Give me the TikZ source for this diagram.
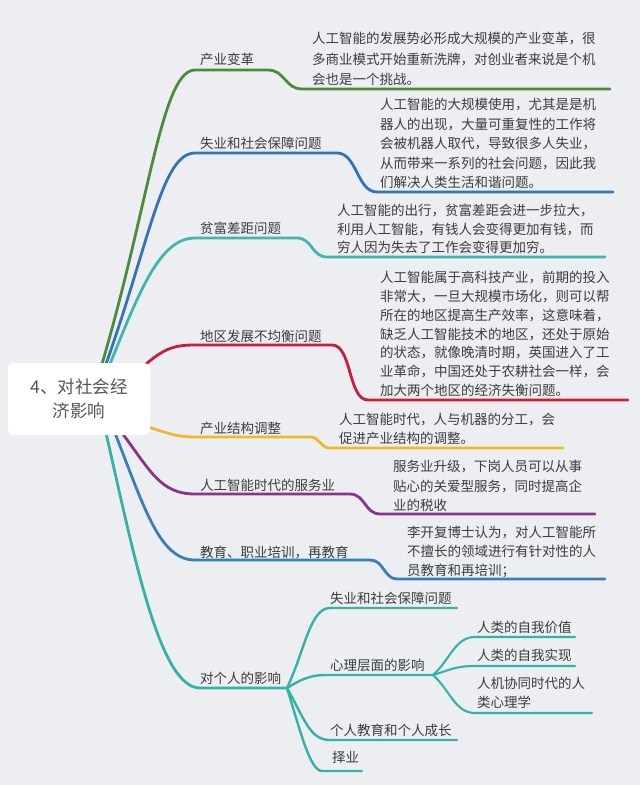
\documentclass[tikz,border=0pt]{standalone}
\usepackage{fontspec}
\newfontfamily\cjk{Noto Sans CJK SC}
\usetikzlibrary{calc}
\pgfdeclarelayer{bg}
\pgfdeclarelayer{lines}
\pgfsetlayers{bg,lines,main}
\definecolor{bgc}{HTML}{ECEEF2}
\definecolor{txt}{HTML}{3C3C3C}
\definecolor{roottxt}{HTML}{555555}
\definecolor{cg}{HTML}{4B8B3B}
\definecolor{cbb}{HTML}{3473B5}
\definecolor{ctt}{HTML}{3FB6B0}
\definecolor{cr}{HTML}{C81E3C}
\definecolor{cy}{HTML}{EDB92E}
\definecolor{cp}{HTML}{8B3488}
\definecolor{cbs}{HTML}{3B7DB7}
\definecolor{cts}{HTML}{33B3A6}
\begin{document}
\begin{tikzpicture}[x=1pt,y=-1pt,
  lbl/.style={anchor=west,inner sep=0pt,font=\cjk\fontsize{13.5}{19}\selectfont,text=txt},
  det/.style={anchor=north west,inner sep=0pt,align=left,font=\cjk\fontsize{13.5}{#1}\selectfont,text=txt},
  det/.default=19.5,
  br/.style={line width=2.8pt,line cap=round,line join=round},
  sbr/.style={line width=2.4pt,line cap=round,line join=round,cts},
  tbr/.style={line width=2.1pt,line cap=round,line join=round,cts},
  rootbox/.style={draw=none,fill=white,rounded corners=6pt,minimum width=142pt,minimum height=72pt,
    align=center,font=\cjk\fontsize{17.5}{24}\selectfont,text=roottxt,inner sep=0pt}
]
\begin{pgfonlayer}{bg}
\fill[bgc] (0,0) rectangle (640,785);
\end{pgfonlayer}
\useasboundingbox (0,0) rectangle (640,785);

% root
\node[rootbox] (root) at (79,399) {4、对社会经\\济影响};

% labels
\node[lbl] (l1) at (200,59) {产业变革};
\node[lbl] (l2) at (200,143) {失业和社会保障问题};
\node[lbl] (l3) at (200,228) {贫富差距问题};
\node[lbl] (l4) at (200,336) {地区发展不均衡问题};
\node[lbl] (l5) at (200,428) {产业结构调整};
\node[lbl] (l6) at (200,485) {人工智能时代的服务业};
\node[lbl] (l7) at (200,552) {教育、职业培训，再教育};
\node[lbl] (l8) at (200,678) {对个人的影响};

% details
\node[det=20.5] (d1) at (312,32) {人工智能的发展势必形成大规模的产业变革，很\\多商业模式开始重新洗牌，对创业者来说是个机\\会也是一个挑战。};
\node[det=19.5] (d2) at (380,98) {人工智能的大规模使用，尤其是是机\\器人的出现，大量可重复性的工作将\\会被机器人取代，导致很多人失业，\\从而带来一系列的社会问题，因此我\\们解决人类生活和谐问题。};
\node[det=18.5] (d3) at (337,204) {人工智能的出行，贫富差距会进一步拉大，\\利用人工智能，有钱人会变得更加有钱，而\\穷人因为失去了工作会变得更加穷。};
\node[det=18.8] (d4) at (380,271) {人工智能属于高科技产业，前期的投入\\非常大，一旦大规模市场化，则可以帮\\所在的地区提高生产效率，这意味着，\\缺乏人工智能技术的地区，还处于原始\\的状态，就像晚清时期，英国进入了工\\业革命，中国还处于农耕社会一样，会\\加大两个地区的经济失衡问题。};
\node[det=19] (d5) at (339,413) {人工智能时代，人与机器的分工，会\\促进产业结构的调整。};
\node[det=19.5] (d6) at (393,460) {服务业升级，下岗人员可以从事\\贴心的关爱型服务，同时提高企\\业的税收};
\node[det=19] (d7) at (407,526) {李开复博士认为，对人工智能所\\不擅长的领域进行有针对性的人\\员教育和再培训；};

% personal sub labels
\node[lbl] (s1) at (330,598) {失业和社会保障问题};
\node[lbl] (s2) at (330,665) {心理层面的影响};
\node[lbl] (s3) at (330,730) {个人教育和个人成长};
\node[lbl] (s4) at (332,757) {择业};
\node[lbl] (t1) at (477,627) {人类的自我价值};
\node[lbl] (t2) at (477,655) {人类的自我实现};
\node[det=19] (t3) at (477,677) {人机协同时代的人\\类心理学};

% coordinates
\coordinate (g0) at (102,364); \coordinate (g1) at (195,70); \coordinate (g2) at (268,70); \coordinate (g3) at (302,89); \coordinate (g4) at (610,89);
\coordinate (b0) at (106,364); \coordinate (b1) at (195,153); \coordinate (b2) at (337,153); \coordinate (b3) at (377,192); \coordinate (b4) at (613,192);
\coordinate (c0) at (110,364); \coordinate (c1) at (195,238); \coordinate (c2) at (297,238); \coordinate (c3) at (327,257); \coordinate (c4) at (605,257);
\coordinate (r0) at (146,364); \coordinate (r1) at (195,345); \coordinate (r2) at (332,345); \coordinate (r3) at (368,400); \coordinate (r4) at (628,400);
\coordinate (y0) at (148,427); \coordinate (y1) at (195,437); \coordinate (y2) at (310,437); \coordinate (y3) at (330,448); \coordinate (y4) at (563,448);
\coordinate (p0) at (122,433); \coordinate (p1) at (195,494); \coordinate (p2) at (350,494); \coordinate (p3) at (380,514); \coordinate (p4) at (595,514);
\coordinate (e0) at (115,433); \coordinate (e1) at (195,560); \coordinate (e2) at (370,560); \coordinate (e3) at (397,579); \coordinate (e4) at (605,579);
\coordinate (h0) at (106,433); \coordinate (h1) at (200,688); \coordinate (hub) at (287,688);
\coordinate (s1a) at (330,608); \coordinate (s1b) at (457,608);
\coordinate (s2a) at (325,675); \coordinate (hub2) at (433,675);
\coordinate (s3a) at (330,740); \coordinate (s3b) at (457,740);
\coordinate (s4a) at (322,771); \coordinate (s4b) at (362,771);
\coordinate (t1a) at (475,637); \coordinate (t1b) at (575,637);
\coordinate (t2a) at (475,666); \coordinate (t2b) at (575,666);
\coordinate (t3a) at (475,713); \coordinate (t3b) at (592,713);

\begin{pgfonlayer}{lines}
\draw[br,cg] (g0) .. controls (150,200) and (162,70) .. (g1) -- (g2) .. controls (285,70) and (285,89) .. (g3) -- (g4);
\draw[br,cbb] (b0) .. controls (150,240) and (162,153) .. (b1) -- (b2) .. controls (357,153) and (357,192) .. (b3) -- (b4);
\draw[br,ctt] (c0) .. controls (140,290) and (160,238) .. (c1) -- (c2) .. controls (312,238) and (312,257) .. (c3) -- (c4);
\draw[br,cr] (r0) .. controls (165,348) and (175,345) .. (r1) -- (r2) .. controls (352,345) and (348,400) .. (r3) -- (r4);
\draw[br,cy] (y0) .. controls (165,432) and (175,437) .. (y1) -- (y2) .. controls (320,437) and (320,448) .. (y3) -- (y4);
\draw[br,cp] (p0) .. controls (150,470) and (160,494) .. (p1) -- (p2) .. controls (365,494) and (365,514) .. (p3) -- (p4);
\draw[br,cbs] (e0) .. controls (145,510) and (160,560) .. (e1) -- (e2) .. controls (384,560) and (384,579) .. (e3) -- (e4);
\draw[br,cts] (h0) .. controls (135,560) and (160,688) .. (h1) -- (hub);
\draw[sbr] (hub) .. controls (305,650) and (310,608) .. (s1a) -- (s1b);
\draw[sbr] (hub) .. controls (300,680) and (310,675) .. (s2a) -- (hub2);
\draw[sbr] (hub) .. controls (305,720) and (310,740) .. (s3a) -- (s3b);
\draw[sbr] (hub) .. controls (300,730) and (310,771) .. (s4a) -- (s4b);
\draw[tbr] (hub2) .. controls (450,660) and (455,637) .. (t1a) -- (t1b);
\draw[tbr] (hub2) .. controls (450,670) and (455,666) .. (t2a) -- (t2b);
\draw[tbr] (hub2) .. controls (450,690) and (455,713) .. (t3a) -- (t3b);
\end{pgfonlayer}
\end{tikzpicture}
\end{document}
